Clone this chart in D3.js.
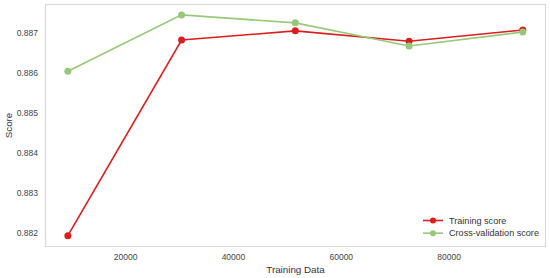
<!DOCTYPE html>
<html>
<head>
<meta charset="utf-8">
<script src="https://cdn.jsdelivr.net/npm/d3@7"></script>
<style>
  body { margin: 0; background: #fff; }
  svg { font-family: "Liberation Sans", Arial, sans-serif; }
  .tick text { fill: #444; font-size: 8.5px; }
  .axis-label { fill: #333; font-size: 9.8px; }
  .legend text { fill: #333; font-size: 9.1px; }
</style>
</head>
<body>
<div id="chart"></div>
<script>
// learning curve values
var trainSizes = [9377, 30475, 51573, 72671, 93770];
var trainScores = [0.88192, 0.88682, 0.88705, 0.88679, 0.88707];
var cvScores = [0.88604, 0.88745, 0.88725, 0.88667, 0.88702];
var xTicks = [20000, 40000, 60000, 80000];
var yTicks = [0.882, 0.883, 0.884, 0.885, 0.886, 0.887];

var series = [
  { name: 'Training score', values: trainScores, color: '#d81e1e' },
  { name: 'Cross-validation score', values: cvScores, color: '#97c77a' }
];

var width = 550, height = 278;
var margin = { left: 45.5, right: 4.5, top: 4.5, bottom: 31.5 };

var svg = d3.select('#chart').append('svg')
    .attr('width', width)
    .attr('height', height);

var x = d3.scaleLinear()
    .domain([5230, 97980])
    .range([margin.left, width - margin.right]);

var y = d3.scaleLinear()
    .domain([0.88165, 0.88771])
    .range([height - margin.bottom, margin.top]);

// frame
svg.append('rect')
    .attr('x', margin.left)
    .attr('y', margin.top)
    .attr('width', width - margin.left - margin.right)
    .attr('height', height - margin.top - margin.bottom)
    .attr('fill', 'none')
    .attr('stroke', '#d9d9d9')
    .attr('stroke-width', 1.2);

var xAxis = svg.append('g')
    .attr('transform', 'translate(0,' + (height - margin.bottom) + ')')
    .call(d3.axisBottom(x).tickValues(xTicks).tickSize(0).tickPadding(7)
          .tickFormat(d3.format('d')));
xAxis.select('.domain').remove();

var yAxis = svg.append('g')
    .attr('transform', 'translate(' + margin.left + ',0)')
    .call(d3.axisLeft(y).tickValues(yTicks).tickSize(0).tickPadding(7.5)
          .tickFormat(d3.format('.3f')));
yAxis.select('.domain').remove();

svg.append('text')
    .attr('class', 'axis-label')
    .attr('x', (margin.left + width - margin.right) / 2)
    .attr('y', 272.5)
    .attr('text-anchor', 'middle')
    .text('Training Data');

svg.append('text')
    .attr('class', 'axis-label')
    .attr('transform', 'translate(11.5,' + ((margin.top + height - margin.bottom) / 2) + ') rotate(-90)')
    .attr('text-anchor', 'middle')
    .text('Score');

var line = d3.line()
    .x(function(d, i) { return x(trainSizes[i]); })
    .y(function(d) { return y(d); });

series.forEach(function(s) {
  svg.append('path')
      .datum(s.values)
      .attr('fill', 'none')
      .attr('stroke', s.color)
      .attr('stroke-width', 1.6)
      .attr('d', line);

  svg.selectAll(null)
      .data(s.values)
    .enter().append('circle')
      .attr('cx', function(d, i) { return x(trainSizes[i]); })
      .attr('cy', function(d) { return y(d); })
      .attr('r', 3.5)
      .attr('fill', s.color);
});

// legend, lower right
var legend = svg.append('g')
    .attr('class', 'legend')
    .attr('transform', 'translate(423,220.5)');

var row = legend.selectAll('g')
    .data(series)
  .enter().append('g')
    .attr('transform', function(d, i) { return 'translate(0,' + (i * 12.7) + ')'; });

row.append('line')
    .attr('x1', 0).attr('x2', 20)
    .attr('stroke', function(d) { return d.color; })
    .attr('stroke-width', 1.6);
row.append('circle')
    .attr('cx', 10)
    .attr('r', 3)
    .attr('fill', function(d) { return d.color; });
row.append('text')
    .attr('x', 26)
    .attr('dy', '0.35em')
    .text(function(d) { return d.name; });
</script>
</body>
</html>
